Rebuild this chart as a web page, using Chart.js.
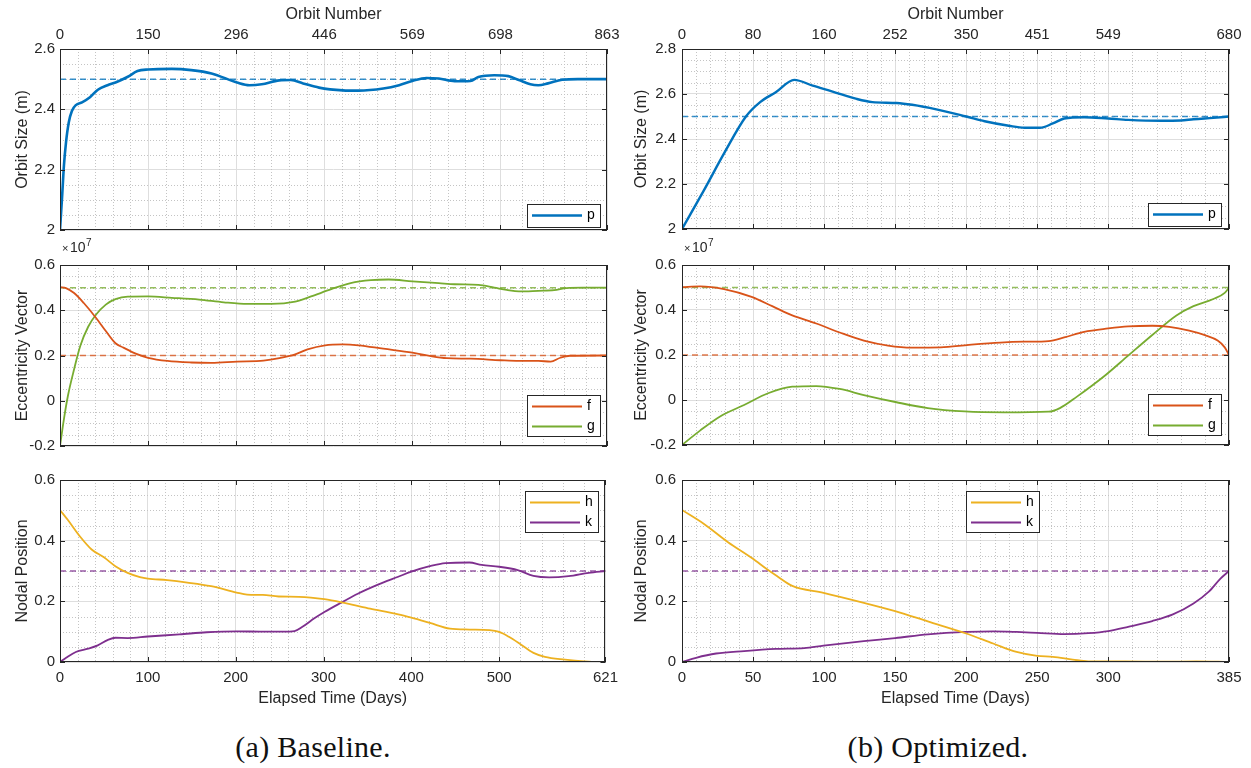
<!DOCTYPE html>
<html><head><meta charset="utf-8">
<script src="https://cdn.jsdelivr.net/npm/chart.js@4.4.0/dist/chart.umd.min.js"></script>
<style>
html,body{margin:0;padding:0;background:#fff;}
#wrap{position:relative;width:1251px;height:768px;overflow:hidden;background:#fff;}
canvas{position:absolute;}
.cap{position:absolute;top:732px;line-height:30px;font-family:"Liberation Serif","Times New Roman",serif;font-size:30px;color:#111;transform:translateX(-50%);white-space:nowrap;letter-spacing:0.3px;}
</style></head><body>
<div id="wrap">
<canvas id="c1" width="625" height="244" style="left:0;top:0"></canvas>
<canvas id="c2" width="625" height="228" style="left:0;top:232px"></canvas>
<canvas id="c3" width="625" height="255" style="left:0;top:455px"></canvas>
<canvas id="c4" width="626" height="244" style="left:625px;top:0"></canvas>
<canvas id="c5" width="626" height="228" style="left:625px;top:232px"></canvas>
<canvas id="c6" width="626" height="255" style="left:625px;top:455px"></canvas>
<div class="cap" style="left:313px">(a) Baseline.</div>
<div class="cap" style="left:938px">(b) Optimized.</div>
</div>
<script>
// ---------- tick labels ----------
const baseDayTicks = [0,100,200,300,400,500,621];
const baseOrbitLabels = [0,150,296,446,569,698,863];
const optDayTicks = [0,50,100,150,200,250,300,385];
const optOrbitLabels = [0,80,160,252,350,451,549,680];
const baseSizeTicks = [2,2.2,2.4,2.6];
const optSizeTicks = [2,2.2,2.4,2.6,2.8];
const eccTicks = [-0.2,0,0.2,0.4,0.6];
const nodTicks = [0,0.2,0.4,0.6];

// ---------- targets ----------
const targetP = 2.5, targetF = 0.2, targetG = 0.5, targetH = 0, targetK = 0.3;

// ---------- baseline series (days, values) ----------
const baseP_t = [0,2.3,4.5,6.8,10,13.6,18,25,34,43,54,63,77,88,100,127,149,172,201,215,229,249,262,276,294,321,339,367,385,400,416,430,448,466,475,493,509,521,534,543,554,570,588,621];
const baseP_v = [2.0,2.106,2.215,2.29,2.357,2.395,2.414,2.423,2.44,2.465,2.48,2.489,2.508,2.527,2.532,2.534,2.53,2.519,2.489,2.48,2.483,2.496,2.497,2.486,2.472,2.463,2.462,2.469,2.48,2.494,2.504,2.502,2.493,2.494,2.507,2.513,2.51,2.497,2.483,2.48,2.486,2.498,2.5,2.5];
const baseF_t = [0,6.8,16,27,41,52,63,72,86,100,122,149,172,201,231,249,267,281,301,321,339,367,400,421,439,466,500,521,543,557,568,579,621];
const baseF_v = [0.502,0.498,0.476,0.432,0.366,0.308,0.254,0.235,0.208,0.19,0.176,0.169,0.167,0.173,0.177,0.188,0.205,0.227,0.245,0.249,0.245,0.23,0.213,0.197,0.188,0.186,0.179,0.176,0.176,0.173,0.19,0.199,0.2];
const baseG_t = [0,4.5,9,16,23,32,41,52,63,77,100,127,158,186,213,240,267,285,308,330,353,373,400,430,448,475,493,507,521,543,561,575,593,621];
const baseG_v = [-0.2,-0.08,0.022,0.139,0.242,0.327,0.381,0.425,0.449,0.46,0.461,0.455,0.447,0.435,0.428,0.428,0.438,0.461,0.493,0.52,0.533,0.536,0.528,0.52,0.515,0.512,0.5,0.49,0.483,0.486,0.489,0.498,0.5,0.5];
const baseH_t = [0,9,23,36,50,63,77,91,100,122,145,172,201,213,231,249,272,301,326,353,385,400,421,444,466,489,500,511,525,539,552,575,597,611,621];
const baseH_v = [0.501,0.468,0.413,0.371,0.345,0.316,0.294,0.28,0.275,0.27,0.262,0.25,0.229,0.222,0.221,0.216,0.215,0.207,0.193,0.176,0.157,0.146,0.129,0.11,0.107,0.105,0.099,0.083,0.057,0.03,0.017,0.008,0.002,0,0];
const baseK_t = [0,7,18,32,43,54,63,77,100,136,167,201,231,253,267,276,290,301,321,339,362,385,400,421,439,466,480,500,521,539,557,579,602,621];
const baseK_v = [0,0.014,0.033,0.044,0.055,0.072,0.08,0.079,0.084,0.091,0.098,0.101,0.1,0.1,0.102,0.116,0.145,0.165,0.197,0.225,0.255,0.281,0.298,0.316,0.326,0.328,0.32,0.314,0.303,0.284,0.279,0.283,0.294,0.3];

// ---------- optimized series (days, values) ----------
const optP_t = [0,15.5,29.6,45,55,66,79,92,106,123,134,151,162,179,200,213,230,241,252,261,269,283,300,314,337,351,360,374,385];
const optP_v = [2.0,2.173,2.336,2.5,2.564,2.608,2.663,2.637,2.611,2.578,2.564,2.56,2.552,2.532,2.5,2.479,2.459,2.45,2.45,2.469,2.491,2.497,2.491,2.485,2.481,2.482,2.488,2.494,2.5];
const optF_t = [0,12.7,29.6,49,63.5,77.6,94.5,111,128,145,162,182,202,224,241,258,269,283,300,314,331,343,357,368,377,382,385];
const optF_v = [0.502,0.505,0.493,0.458,0.417,0.376,0.34,0.3,0.264,0.242,0.233,0.234,0.245,0.255,0.259,0.262,0.278,0.303,0.318,0.327,0.33,0.325,0.308,0.288,0.264,0.234,0.2];
const optG_t = [0,12.7,26.8,43.7,60.6,77.6,94.5,111,128,151,173,199,227,258,266,278,298,314,331,348,360,374,382,385];
const optG_v = [-0.2,-0.136,-0.073,-0.022,0.03,0.059,0.062,0.049,0.022,-0.01,-0.036,-0.051,-0.055,-0.052,-0.036,0.015,0.11,0.197,0.289,0.376,0.417,0.449,0.476,0.5];
const optH_t = [0,15.5,32.4,49.4,60.6,66.3,77.6,99.6,128,150,173,200,219,235.5,250,261,275,286,312,340,362,385];
const optH_v = [0.501,0.455,0.395,0.342,0.303,0.285,0.251,0.228,0.195,0.168,0.134,0.094,0.061,0.033,0.02,0.017,0.008,0.002,0.002,0.001,0.002,0];
const optK_t = [0,9.9,24,43.7,66,86,99.6,128,150,173,200,219,235.5,250,269,286,300,314,331,345.5,360,371,379,385];
const optK_v = [0,0.014,0.028,0.036,0.043,0.046,0.054,0.069,0.079,0.091,0.099,0.101,0.099,0.096,0.092,0.095,0.102,0.116,0.135,0.157,0.193,0.233,0.275,0.3];

// ---------- styling ----------
const INK = '#262626', GRID = '#dedede', MINOR = '#c4c4c4';
const FONT = '"Liberation Sans", Arial, Helvetica, sans-serif';
const COL = {p:'#0072BD', f:'#D95319', g:'#77AC30', h:'#EDB120', k:'#7E2F8E'};
const DASHCOL = {p:'rgba(0,114,189,0.78)', f:'rgba(217,83,25,0.78)', g:'rgba(119,172,48,0.78)', h:'rgba(237,177,32,0.85)', k:'rgba(126,47,142,0.78)'};

function pts(t, v){ return t.map((x,i)=>({x:x, y:v[i]})); }
function fmt(v){ return String(Math.round(v*100)/100); }
function setTicks(vals){ return s => { s.ticks = vals.map(v=>({value:v})); }; }
function line(ctx,x1,y1,x2,y2){ ctx.beginPath(); ctx.moveTo(x1,y1); ctx.lineTo(x2,y2); ctx.stroke(); }
function minorVals(ticks, n){ const out=[]; for(let i=0;i<ticks.length-1;i++){ const a=ticks[i], b=ticks[i+1]; for(let j=1;j<n;j++) out.push(a+(b-a)*j/n);} return out; }

const matlab = {
  id:'matlab',
  beforeDatasetsDraw(chart, args, o){
    if(!o || !o.xTicks) return;
    const ctx=chart.ctx, a=chart.chartArea, xs=chart.scales.x, ys=chart.scales.y;
    ctx.save();
    ctx.strokeStyle=MINOR; ctx.lineWidth=1; ctx.setLineDash([1,2]);
    for (const v of minorVals(o.xTicks,o.xSub)) { const p=Math.round(xs.getPixelForValue(v))+0.5; line(ctx,p,a.top,p,a.bottom); }
    for (const v of minorVals(o.yTicks,o.ySub)) { const p=Math.round(ys.getPixelForValue(v))+0.5; line(ctx,a.left,p,a.right,p); }
    ctx.restore();
  },
  afterDatasetsDraw(chart, args, o){
    if(!o || !o.xTicks) return;
    const ctx=chart.ctx, a=chart.chartArea, xs=chart.scales.x, ys=chart.scales.y;
    ctx.save();
    ctx.setLineDash([]);
    ctx.strokeStyle=INK; ctx.lineWidth=1;
    ctx.strokeRect(Math.round(a.left)+0.5, Math.round(a.top)+0.5, Math.round(a.right-a.left)-1, Math.round(a.bottom-a.top)-1);
    const TL=5;
    for (const v of o.xTicks){ const p=Math.round(xs.getPixelForValue(v))+0.5; line(ctx,p,a.bottom,p,a.bottom-TL); line(ctx,p,a.top,p,a.top+TL); }
    for (const v of o.yTicks){ const p=Math.round(ys.getPixelForValue(v))+0.5; line(ctx,a.left,p,a.left+TL,p); line(ctx,a.right,p,a.right-TL,p); }
    if (o.legend){
      const L=o.legend;
      const items = chart.data.datasets.filter(d=>d.inLegend);
      const n=items.length, w=73, h=(n===1?23:41);
      const bx = Math.round(L.left!=null ? a.left+L.left : a.right-L.right-w);
      const by = Math.round(L.top!=null ? a.top+L.top : a.bottom-L.bottom-h);
      ctx.fillStyle='#fff'; ctx.fillRect(bx,by,w,h);
      ctx.strokeStyle=INK; ctx.lineWidth=1; ctx.strokeRect(bx+0.5,by+0.5,w,h);
      items.forEach((d,i)=>{
        const cy = by + 11.5 + i*20;
        ctx.strokeStyle=d.borderColor; ctx.lineWidth=d.borderWidth; line(ctx,bx+5,cy,bx+55,cy);
        ctx.fillStyle='#000'; ctx.font='14px '+FONT; ctx.textBaseline='middle'; ctx.textAlign='left';
        ctx.fillText(d.label,bx+60,cy);
      });
    }
    if (o.exp){
      ctx.fillStyle=INK; ctx.textBaseline='alphabetic'; ctx.textAlign='left';
      ctx.font='11px '+FONT; ctx.fillText('\u00d7', a.left+2, a.top-13);
      ctx.font='14px '+FONT; ctx.fillText('10', a.left+10, a.top-13);
      ctx.font='10px '+FONT; ctx.fillText('7', a.left+26, a.top-19);
    }
    ctx.restore();
  }
};
Chart.register(matlab);

function series(label, key, t, v, w){
  return {label, inLegend:true, data:pts(t,v), borderColor:COL[key], borderWidth:w, xAxisID:'x', yAxisID:'y', pointRadius:0, fill:false, cubicInterpolationMode:'monotone'};
}
function target(key, val, xMax){
  return {label:'_t'+key, inLegend:false, data:[{x:0,y:val},{x:xMax,y:val}], borderColor:DASHCOL[key], borderWidth:1.5, borderDash:[6,4], xAxisID:'x', yAxisID:'y', pointRadius:0, fill:false};
}

function build(id, c){
  const titleFont = {family:FONT, size:16};
  const scales = {
    x: {type:'linear', position:'bottom', min:0, max:c.xMax,
      afterBuildTicks: setTicks(c.xTicks),
      ticks:{display: !!c.xTitle, font:{family:FONT,size:15}, color:INK, padding:7, maxRotation:0, autoSkip:false, callback:v=>fmt(v)},
      grid:{color:GRID, lineWidth:1, drawTicks:false},
      border:{display:false},
      title: c.xTitle ? {display:true, text:c.xTitle, font:titleFont, color:INK, padding:{top:0,bottom:1.4}} : {display:false},
      afterFit: s=>{ s.height = c.xH; }
    },
    y: {type:'linear', position:'left', min:c.yMin, max:c.yMax,
      afterBuildTicks: setTicks(c.yTicks),
      ticks:{font:{family:FONT,size:15}, color:INK, padding:c.yTickPad, callback:v=>fmt(v)},
      grid:{color:GRID, lineWidth:1, drawTicks:false},
      border:{display:false},
      title:{display:true, text:c.yTitle, font:titleFont, color:INK, padding:{top:c.yTitlePad,bottom:0}},
      afterFit: s=>{ s.width = c.yW; }
    }
  };
  if (c.orbit){
    scales.x2 = {type:'linear', position:'top', min:0, max:c.xMax,
      afterBuildTicks: setTicks(c.xTicks),
      ticks:{font:{family:FONT,size:15}, color:INK, padding:5, maxRotation:0, autoSkip:false, callback:v=>String(c.orbit[c.xTicks.indexOf(v)])},
      grid:{display:false, drawTicks:false}, border:{display:false},
      title:{display:true, text:'Orbit Number', font:titleFont, color:INK, padding:{top:5.4,bottom:0}},
      afterFit: s=>{ s.height = 49; }
    };
  }
  return new Chart(document.getElementById(id), {
    type:'line',
    data:{datasets:c.datasets},
    options:{
      responsive:false, animation:false, devicePixelRatio:1,
      layout:{padding:c.pad},
      scales,
      plugins:{legend:{display:false}, tooltip:{enabled:false},
        matlab:{xTicks:c.xTicks, xSub:5, yTicks:c.yTicks, ySub:4, legend:c.legend, exp:!!c.exp}}
    }
  });
}

const L = {yW:60, yTitlePad:13.4, yTickPad:5, padR:18};
const R = {yW:57, yTitlePad:7.4, yTickPad:6, padR:22};

// Baseline column
build('c1', {xMax:621, xTicks:baseDayTicks, orbit:baseOrbitLabels, yMin:2, yMax:2.6, yTicks:baseSizeTicks,
  yTitle:'Orbit Size (m)', yW:L.yW, yTitlePad:L.yTitlePad, yTickPad:L.yTickPad, xH:12, pad:{left:0,right:L.padR,top:0,bottom:0},
  datasets:[series('p','p',baseP_t,baseP_v,2.6), target('p',targetP,621)], legend:{right:7,bottom:3}});
build('c2', {xMax:621, xTicks:baseDayTicks, yMin:-0.2, yMax:0.6, yTicks:eccTicks,
  yTitle:'Eccentricity Vector', yW:L.yW, yTitlePad:L.yTitlePad, yTickPad:L.yTickPad, xH:12, pad:{left:0,right:L.padR,top:33,bottom:0},
  datasets:[series('f','f',baseF_t,baseF_v,1.8), series('g','g',baseG_t,baseG_v,1.8), target('f',targetF,621), target('g',targetG,621)],
  legend:{right:7,bottom:10}, exp:true});
build('c3', {xMax:621, xTicks:baseDayTicks, yMin:0, yMax:0.6, yTicks:nodTicks, xTitle:'Elapsed Time (Days)',
  yTitle:'Nodal Position', yW:L.yW, yTitlePad:L.yTitlePad, yTickPad:L.yTickPad, xH:48, pad:{left:0,right:L.padR,top:25,bottom:0},
  datasets:[series('h','h',baseH_t,baseH_v,1.8), series('k','k',baseK_t,baseK_v,1.8), target('h',targetH,621), target('k',targetK,621)],
  legend:{right:7,top:11}});

// Optimized column
build('c4', {xMax:385, xTicks:optDayTicks, orbit:optOrbitLabels, yMin:2, yMax:2.8, yTicks:optSizeTicks,
  yTitle:'Orbit Size (m)', yW:R.yW, yTitlePad:R.yTitlePad, yTickPad:R.yTickPad, xH:12, pad:{left:0,right:R.padR,top:0,bottom:0},
  datasets:[series('p','p',optP_t,optP_v,2.4), target('p',targetP,385)], legend:{right:8,bottom:3}});
build('c5', {xMax:385, xTicks:optDayTicks, yMin:-0.2, yMax:0.6, yTicks:eccTicks,
  yTitle:'Eccentricity Vector', yW:R.yW, yTitlePad:R.yTitlePad, yTickPad:R.yTickPad, xH:12, pad:{left:0,right:R.padR,top:33,bottom:0},
  datasets:[series('f','f',optF_t,optF_v,1.8), series('g','g',optG_t,optG_v,1.8), target('f',targetF,385), target('g',targetG,385)],
  legend:{right:8,bottom:10}, exp:true});
build('c6', {xMax:385, xTicks:optDayTicks, yMin:0, yMax:0.6, yTicks:nodTicks, xTitle:'Elapsed Time (Days)',
  yTitle:'Nodal Position', yW:R.yW, yTitlePad:R.yTitlePad, yTickPad:R.yTickPad, xH:48, pad:{left:0,right:R.padR,top:25,bottom:0},
  datasets:[series('h','h',optH_t,optH_v,1.8), series('k','k',optK_t,optK_v,1.8), target('h',targetH,385), target('k',targetK,385)],
  legend:{left:284,top:11}});
</script>
</body></html>
